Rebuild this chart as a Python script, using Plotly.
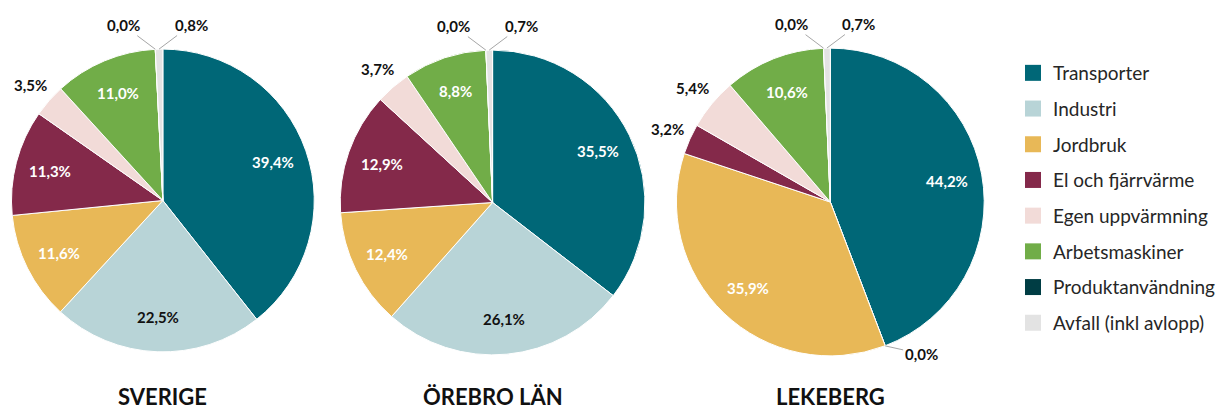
import math
import plotly.graph_objects as go

# Emission shares (%) per sector
categories = [
    "Transporter",
    "Industri",
    "Jordbruk",
    "El och fjärrvärme",
    "Egen uppvärmning",
    "Arbetsmaskiner",
    "Produktanvändning",
    "Avfall (inkl avlopp)",
]
sverige = [39.4, 22.5, 11.6, 11.3, 3.5, 11.0, 0.0, 0.8]
orebro_lan = [35.5, 26.1, 12.4, 12.9, 3.7, 8.8, 0.0, 0.7]
lekeberg = [44.2, 0.0, 35.9, 3.2, 5.4, 10.6, 0.0, 0.7]
region_names = ["SVERIGE", "ÖREBRO LÄN", "LEKEBERG"]

colors = ["#006777", "#B8D4D7", "#E8B857", "#84294A",
          "#F2DBD8", "#71AD48", "#003D44", "#E3E3E3"]
inside_font_colors = ["white", "#111111", "white", "white",
                      "#111111", "white", "white", "#111111"]

FONT = "Lato, 'Open Sans', sans-serif"
TEXT_DARK = "#111111"
W, H = 1221, 410

# pie centres and radii in pixels
pie_geom = [(163, 200.5, 151.5), (493, 202.5, 152.5), (831, 202.0, 154.0)]

# label placement (fractions of the radius)
INSIDE_R = 0.77
OUTSIDE_R = 1.16
# pixel offsets of labels for very thin slices, drawn with a leader line
thin_offsets = {
    "Produktanvändning": (-32, -24),
    "Avfall (inkl avlopp)": (32, -24),
    "Industri": (36, 8),
}


def to_paper(px, py):
    return px / W, (H - py) / H


fig = go.Figure()

for name, vals, (cx, cy, r) in zip(region_names,
                                   [sverige, orebro_lan, lekeberg], pie_geom):
    fig.add_trace(go.Pie(
        labels=categories,
        values=vals,
        sort=False,
        direction="clockwise",
        rotation=0,
        marker=dict(colors=colors, line=dict(color="white", width=1)),
        textinfo="none",
        showlegend=False,
        hoverinfo="label+value",
        domain=dict(x=[(cx - r) / W, (cx + r) / W],
                    y=[(H - cy - r) / H, (H - cy + r) / H]),
        name=name,
    ))

    # value labels, placed at each slice's mid angle (clockwise from 12 o'clock)
    total = sum(vals)
    start = 0.0
    for cat, v, fcol in zip(categories, vals, inside_font_colors):
        a0 = start / total * 2 * math.pi
        a1 = (start + v) / total * 2 * math.pi
        mid = (a0 + a1) / 2
        start += v
        label = f"<b>{v:.1f}%</b>".replace(".", ",")
        if v >= 8:
            x, y = to_paper(cx + INSIDE_R * r * math.sin(mid),
                            cy - INSIDE_R * r * math.cos(mid))
            fig.add_annotation(text=label, x=x, y=y, xref="paper", yref="paper",
                               showarrow=False, xanchor="center", yanchor="middle",
                               font=dict(family=FONT, size=15, color=fcol))
        elif v >= 1:
            x, y = to_paper(cx + OUTSIDE_R * r * math.sin(mid),
                            cy - OUTSIDE_R * r * math.cos(mid))
            fig.add_annotation(text=label, x=x, y=y, xref="paper", yref="paper",
                               showarrow=False, xanchor="center", yanchor="middle",
                               font=dict(family=FONT, size=15, color=TEXT_DARK))
        else:
            x, y = to_paper(cx + r * math.sin(mid), cy - r * math.cos(mid))
            ax, ay = thin_offsets[cat]
            fig.add_annotation(text=label, x=x, y=y, xref="paper", yref="paper",
                               showarrow=True, arrowhead=0, arrowwidth=1,
                               arrowcolor="#A6A6A6", ax=ax, ay=ay,
                               standoff=0, startstandoff=0,
                               font=dict(family=FONT, size=15, color=TEXT_DARK))

    tx, ty = to_paper(cx, 396)
    fig.add_annotation(text=f"<b>{name}</b>", x=tx, y=ty,
                       xref="paper", yref="paper", showarrow=False,
                       xanchor="center", yanchor="middle",
                       font=dict(family=FONT, size=22, color=TEXT_DARK))

# legend entries
for cat, col in zip(categories, colors):
    fig.add_trace(go.Scatter(
        x=[None], y=[None], mode="markers", name=cat, legendgroup=cat,
        marker=dict(symbol="square", size=16, color=col),
        showlegend=True,
    ))

fig.update_layout(
    width=W, height=H,
    margin=dict(l=0, r=0, t=0, b=0),
    paper_bgcolor="white", plot_bgcolor="white",
    xaxis=dict(visible=False), yaxis=dict(visible=False),
    legend=dict(x=1014 / W, y=(H - 54) / H, xanchor="left", yanchor="top",
                font=dict(family=FONT, size=19, color="#262626"),
                tracegroupgap=8, itemwidth=30,
                bgcolor="rgba(0,0,0,0)"),
    font=dict(family=FONT),
)

fig.write_html("out.html")
